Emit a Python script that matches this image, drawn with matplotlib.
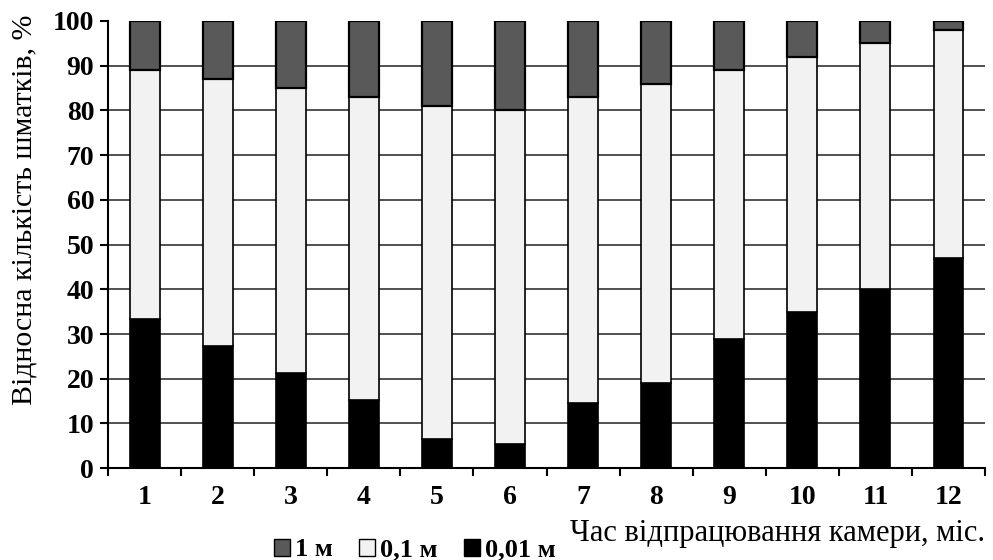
import numpy as np
import matplotlib
matplotlib.use("Agg")
import matplotlib.pyplot as plt
from matplotlib.patches import Patch

plt.rcParams['font.family'] = ['Liberation Serif', 'DejaVu Serif']

months = ['1', '2', '3', '4', '5', '6', '7', '8', '9', '10', '11', '12']
# частка фракцій, %
small = [33.3, 27.3, 21.2, 15.2, 6.5, 5.4, 14.5, 19.0, 28.9, 35.0, 40.0, 47.0]   # 0,01 м
medium = [55.7, 59.7, 63.8, 67.8, 74.5, 74.6, 68.5, 67.0, 60.1, 57.0, 55.0, 51.0]  # 0,1 м
large = [11.0, 13.0, 15.0, 17.0, 19.0, 20.0, 17.0, 14.0, 11.0, 8.0, 5.0, 2.0]   # 1 м
yticks = [0, 10, 20, 30, 40, 50, 60, 70, 80, 90, 100]

fig = plt.figure(figsize=(9.93, 5.6), dpi=100)
ax = fig.add_axes([0.1088, 0.164, 0.8832, 0.7985])

x = np.arange(len(months))
w = 0.41
s = np.array(small)
m = np.array(medium)
l = np.array(large)

# сітка під стовпцями
ax.hlines(yticks[1:-1], -0.5, len(months) - 0.5, colors='#222222', linewidth=1.1, zorder=0)

ax.bar(x, s, w, color='black', edgecolor='black', linewidth=1.2, zorder=2)
ax.bar(x, m, w, bottom=s, color='#f2f2f2', edgecolor='black', linewidth=1.2, zorder=2)
ax.bar(x, l, w, bottom=s + m, color='#595959', edgecolor='black', linewidth=1.6, zorder=2)

ax.set_xlim(-0.5, len(months) - 0.5)
ax.set_ylim(0, 100)
ax.set_yticks(yticks)
ax.set_yticklabels([str(v) for v in yticks], fontsize=20, fontweight='bold')
ax.set_xticks(x)
ax.set_xticklabels(months, fontsize=20, fontweight='bold')
ax.set_xticks(np.arange(len(months) + 1) - 0.5, minor=True)
ax.tick_params(axis='x', which='major', length=0, pad=12)
ax.tick_params(axis='x', which='minor', length=6, width=1.5, direction='out')
ax.tick_params(axis='y', length=6, width=1.5, direction='out', pad=4)

for sp in ['top', 'right']:
    ax.spines[sp].set_visible(False)
for sp in ['left', 'bottom']:
    ax.spines[sp].set_linewidth(1.5)

ax.set_ylabel('Відносна кількість шматків, %', fontsize=21.5)
ax.yaxis.set_label_coords(-0.08, 0.578)
fig.text(0.992, 0.022, 'Час відпрацювання камери, міс.', fontsize=22, ha='right', va='bottom')

handles = [Patch(facecolor='#595959', edgecolor='black', label='1 м'),
           Patch(facecolor='#f2f2f2', edgecolor='black', label='0,1 м'),
           Patch(facecolor='black', edgecolor='black', label='0,01 м')]
fig.legend(handles=handles, loc='lower center', bbox_to_anchor=(0.418, -0.045), ncol=3,
           frameon=False, prop={'weight': 'bold', 'size': 19},
           handlelength=0.6, handleheight=0.6, handletextpad=0.2, columnspacing=1.0)

fig.savefig('out.png', dpi=100)
